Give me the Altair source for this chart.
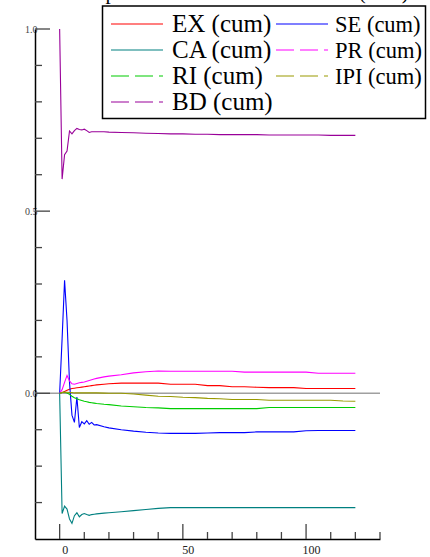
import altair as alt
import pandas as pd

# ---------------- data ----------------
periods = [0, 1, 2, 3, 4, 5, 6, 7, 8, 9, 10, 11, 12, 13, 14, 15, 18, 20,
           25, 30, 35, 40, 45, 50, 55, 60, 65, 70, 75, 80, 85, 90, 95, 100, 105, 110, 115, 120]

ex = [0, 0.002, 0.005, 0.008, 0.011, 0.013, 0.014, 0.015, 0.016, 0.017, 0.018, 0.019, 0.02, 0.021, 0.022, 0.023,
      0.025, 0.026,
      0.028, 0.028, 0.028, 0.028, 0.025, 0.025, 0.025, 0.021, 0.021, 0.018, 0.018, 0.0165, 0.0155, 0.0155, 0.0155,
      0.013, 0.013, 0.013, 0.013, 0.013]
se = [0, 0.15, 0.31, 0.20, 0.03, -0.06, -0.08, -0.01, -0.094, -0.078, -0.084, -0.075, -0.085, -0.08, -0.087, -0.086,
      -0.092, -0.095,
      -0.100, -0.104, -0.107, -0.109, -0.110, -0.110, -0.110, -0.109, -0.108, -0.108, -0.108, -0.106, -0.106, -0.106,
      -0.106, -0.103, -0.102, -0.102, -0.102, -0.102]
ca = [0, -0.33, -0.31, -0.318, -0.345, -0.357, -0.336, -0.328, -0.339, -0.333, -0.33, -0.333, -0.335, -0.333, -0.332,
      -0.331, -0.329, -0.328,
      -0.325, -0.322, -0.319, -0.316, -0.314, -0.314, -0.314, -0.314, -0.314, -0.314, -0.314, -0.314, -0.314, -0.314,
      -0.314, -0.314, -0.314, -0.314, -0.314, -0.314]
pr = [0, 0.01, 0.03, 0.049, 0.034, 0.026, 0.025, 0.027, 0.029, 0.03, 0.031, 0.033, 0.035, 0.037, 0.039, 0.041,
      0.045, 0.047,
      0.051, 0.056, 0.059, 0.061, 0.0605, 0.0605, 0.0605, 0.0605, 0.0605, 0.0605, 0.058, 0.058, 0.058, 0.058, 0.058,
      0.058, 0.055, 0.055, 0.055, 0.055]
ri = [0, 0.002, 0.003, 0.001, -0.003, -0.008, -0.012, -0.015, -0.018, -0.02, -0.022, -0.023, -0.025, -0.026, -0.027,
      -0.028, -0.030, -0.031,
      -0.035, -0.037, -0.039, -0.040, -0.042, -0.042, -0.042, -0.042, -0.042, -0.042, -0.042, -0.042, -0.039, -0.039,
      -0.039, -0.039, -0.039, -0.039, -0.039, -0.039]
ipi = [0, 0.002, 0.003, 0.003, 0.002, 0.002, 0.001, 0.001, 0.001, 0.001, 0.001, 0.001, 0.001, 0.001, 0.001, 0.001,
       0.0005, 0.0,
       0.0, -0.002, -0.005, -0.008, -0.009, -0.011, -0.012, -0.014, -0.015, -0.017, -0.017, -0.017, -0.019, -0.019,
       -0.019, -0.019, -0.019, -0.019, -0.021, -0.022]
bd = [1.0, 0.588, 0.655, 0.665, 0.72, 0.712, 0.721, 0.727, 0.724, 0.723, 0.725, 0.721, 0.716, 0.718, 0.718, 0.718,
      0.718, 0.717,
      0.716, 0.715, 0.714, 0.713, 0.712, 0.712, 0.711, 0.711, 0.710, 0.710, 0.710, 0.710, 0.709, 0.709, 0.709, 0.709,
      0.709, 0.708, 0.708, 0.708]

series_names = ["EX (cum)", "SE (cum)", "CA (cum)", "PR (cum)", "RI (cum)", "IPI (cum)", "BD (cum)"]
series_values = [ex, se, ca, pr, ri, ipi, bd]
series_colors = ["#ff0000", "#0000ff", "#008080", "#ff00ff", "#00cc00", "#999900", "#990099"]
series_dashes = [[1, 0], [1, 0], [1, 0], [18, 6], [18, 6], [18, 6], [18, 6]]

x_major = [0, 50, 100]
x_minor = [10, 20, 30, 40, 60, 70, 80, 90, 110, 120, 130]
y_major = [0.0, 0.5, 1.0]
y_minor = [-0.3, -0.2, -0.1, 0.1, 0.2, 0.3, 0.4, 0.6, 0.7, 0.8, 0.9]

title_text = "Response of BD to a shock in SE (cum)"

# ---------------- layout ----------------
W, H = 345, 510
SERIF = "Liberation Serif"

rows = []
for name, vals in zip(series_names, series_values):
    for p, v in zip(periods, vals):
        rows.append({"series": name, "period": p, "value": v})
df = pd.DataFrame(rows)

x_scale = alt.Scale(domain=[-10, 130], nice=False, zero=False)
y_scale = alt.Scale(domain=[-0.4, 1.0], nice=False, zero=False)
color_scale = alt.Scale(domain=series_names, range=series_colors)
dash_scale = alt.Scale(domain=series_names, range=series_dashes)

x_axis = alt.Axis(values=x_major, ticks=False, grid=False, domainColor="#000000", domainWidth=1.5,
                  labelFont=SERIF, labelFontSize=12, labelColor="#222222", labelPadding=5, labelOffset=5,
                  title=None, labelFlush=False)
y_axis = alt.Axis(values=y_major, format=".1f", ticks=False, grid=False, domainColor="#000000", domainWidth=1.5,
                  labelFont=SERIF, labelFontSize=10, labelColor="#444444", labelAlign="right",
                  labelPadding=-2, title=None, labelFlush=False)

zero_line = alt.Chart(pd.DataFrame({"v": [0.0]})).mark_rule(color="#a0a0a0", strokeWidth=1.5).encode(
    y=alt.Y("v:Q", scale=y_scale, axis=y_axis),
    x=alt.value(0), x2=alt.value(W),
)

lines = alt.Chart(df).mark_line(strokeWidth=1.1, clip=True).encode(
    x=alt.X("period:Q", scale=x_scale, axis=x_axis),
    y=alt.Y("value:Q", scale=y_scale, axis=y_axis),
    color=alt.Color("series:N", scale=color_scale, legend=None),
)

tick_color = "#444444"
xmaj = alt.Chart(pd.DataFrame({"t": x_major})).mark_rule(color=tick_color, strokeWidth=1.3).encode(
    x=alt.X("t:Q", scale=x_scale, axis=x_axis), y=alt.value(H), y2=alt.value(H - 15))
xmin = alt.Chart(pd.DataFrame({"t": x_minor})).mark_rule(color=tick_color, strokeWidth=1.3).encode(
    x=alt.X("t:Q", scale=x_scale, axis=x_axis), y=alt.value(H), y2=alt.value(H - 7))
ymaj = alt.Chart(pd.DataFrame({"t": y_major})).mark_rule(color=tick_color, strokeWidth=1.3).encode(
    y=alt.Y("t:Q", scale=y_scale, axis=y_axis), x=alt.value(0), x2=alt.value(15))
ymin = alt.Chart(pd.DataFrame({"t": y_minor})).mark_rule(color=tick_color, strokeWidth=1.3).encode(
    y=alt.Y("t:Q", scale=y_scale, axis=y_axis), x=alt.value(0), x2=alt.value(7))

# legend (drawn by hand: two columns)
leg_rows = []
for i, name in enumerate(series_names):
    col, row = i % 2, i // 2
    leg_rows.append({
        "series": name,
        "lx1": 76 + col * 165, "lx2": 128 + col * 165,
        "ly": -5 + row * 26,
        "tx": 137 + col * 163, "ty": 2.7 + row * 26,
        "fs": 25 if col == 0 else 22.5,
    })
leg_df = pd.DataFrame(leg_rows)

leg_box = alt.Chart(pd.DataFrame({"a": [0]})).mark_rect(fill="white", stroke="black", strokeWidth=1.5).encode(
    x=alt.value(67.5), x2=alt.value(390.5), y=alt.value(-23), y2=alt.value(89.5))
leg_sw = alt.Chart(leg_df).mark_rule(strokeWidth=1.1).encode(
    x=alt.X("lx1:Q", scale=None, axis=None), x2="lx2:Q",
    y=alt.Y("ly:Q", scale=None, axis=None),
    color=alt.Color("series:N", scale=color_scale, legend=None),
    strokeDash=alt.StrokeDash("series:N", scale=dash_scale, legend=None),
)
leg_txt = alt.Chart(leg_df).mark_text(font=SERIF, align="left", baseline="alphabetic",
                                      color="black").encode(
    x=alt.X("tx:Q", scale=None, axis=None),
    y=alt.Y("ty:Q", scale=None, axis=None),
    size=alt.Size("fs:Q", scale=None, legend=None),
    text="series:N",
)

title = alt.Chart(pd.DataFrame({"a": [0]})).mark_text(font=SERIF, fontSize=21, align="left",
                                                      baseline="alphabetic", color="black").encode(
    x=alt.value(39), y=alt.value(-30.5), text=alt.value(title_text))

chart = alt.layer(zero_line, lines, xmaj, xmin, ymaj, ymin, leg_box, leg_sw, leg_txt, title).properties(
    width=W, height=H,
    padding={"left": 35, "top": 29, "right": 50, "bottom": 18},
    autosize=alt.AutoSizeParams(type="none"),
    background="white",
).configure_view(stroke=None)

chart.save("out.html", embed_options={"renderer": "svg", "actions": False})
